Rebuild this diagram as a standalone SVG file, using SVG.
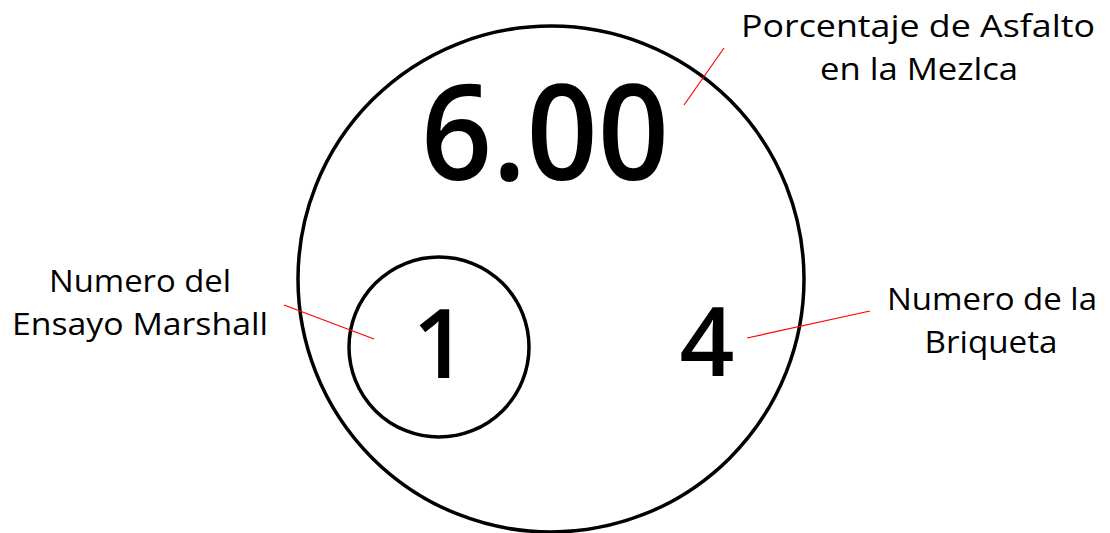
<svg xmlns="http://www.w3.org/2000/svg" width="1110" height="533" viewBox="0 0 1110 533">
<style>
.ring{fill:none;stroke:#000;stroke-width:3.5}
.lbl{font-family:"Open Sans","Liberation Sans",sans-serif;font-size:31px;fill:#000;text-anchor:middle}
.num{font-family:"Open Sans","Liberation Sans",sans-serif;font-weight:600;fill:#000;text-anchor:middle}
.lead{stroke:#ff0000;stroke-width:1.2;fill:none}
</style>
<rect width="1110" height="533" fill="#fff"/>
<g id="outer">
<circle class="ring" cx="551" cy="279" r="253"/>
<text class="num" x="545" y="180" font-size="132" textLength="248" lengthAdjust="spacingAndGlyphs">6.00</text>
<text class="num" x="707" y="376" font-size="96">4</text>
</g>
<g id="inner">
<circle class="ring" cx="439" cy="347" r="90"/>
<text class="num" x="440" y="378" font-size="96">1</text>
</g>
<g id="label-asfalto">
<text class="lbl" x="918" y="37" textLength="354" lengthAdjust="spacingAndGlyphs">Porcentaje de Asfalto</text>
<text class="lbl" x="919" y="80" textLength="198" lengthAdjust="spacingAndGlyphs">en la Mezlca</text>
</g>
<g id="label-ensayo">
<text class="lbl" x="140" y="292" textLength="182" lengthAdjust="spacingAndGlyphs">Numero del</text>
<text class="lbl" x="140" y="335" textLength="256" lengthAdjust="spacingAndGlyphs">Ensayo Marshall</text>
</g>
<g id="label-briqueta">
<text class="lbl" x="992" y="310" textLength="210" lengthAdjust="spacingAndGlyphs">Numero de la</text>
<text class="lbl" x="991" y="353" textLength="133" lengthAdjust="spacingAndGlyphs">Briqueta</text>
</g>
<g id="connectors">
<line class="lead" x1="684" y1="105" x2="724" y2="48"/>
<line class="lead" x1="284" y1="305" x2="374" y2="339"/>
<line class="lead" x1="747" y1="338" x2="870" y2="311"/>
</g>
</svg>
